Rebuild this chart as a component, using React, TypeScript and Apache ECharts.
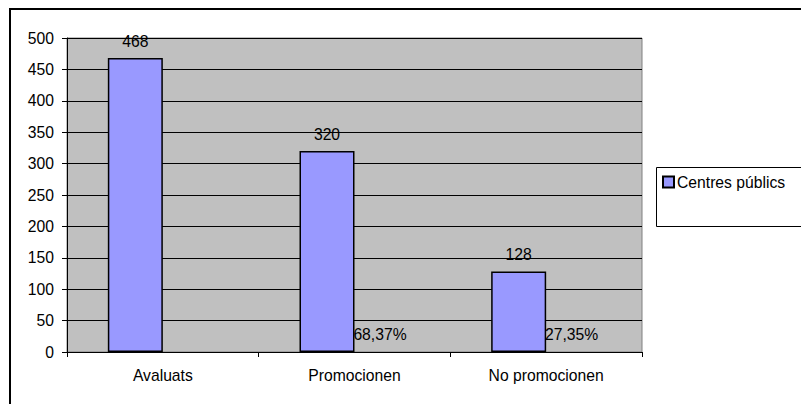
import React, { useEffect, useRef } from "react";
import * as echarts from "echarts";

const categories = ["Avaluats", "Promocionen", "No promocionen"];
const centresPublics = [468, 320, 128];
const percentages: (number | null)[] = [null, 68.37, 27.35];
const seriesName = "Centres públics";

const FONT = "'Liberation Sans', Arial, sans-serif";
const FS = 15.7;

export default function App() {
  const ref = useRef<HTMLDivElement>(null);
  useEffect(() => {
    if (!ref.current) return;
    const chart = echarts.init(ref.current, undefined, { renderer: "svg" });
    chart.setOption({
      animation: false,
      backgroundColor: "#ffffff",
      textStyle: { fontFamily: FONT },
      grid: {
        left: 67,
        top: 38,
        right: 159,
        bottom: 52,
        show: true,
        backgroundColor: "#c0c0c0",
        borderColor: "#808080",
        borderWidth: 1,
      },
      graphic: [
        {
          type: "rect",
          z: -10,
          shape: { x: 10, y: 9, width: 830, height: 430 },
          style: { fill: "none", stroke: "#000", lineWidth: 2 },
        },
        {
          type: "rect",
          z: 0,
          shape: { x: 656.5, y: 167.5, width: 170, height: 59 },
          style: { fill: "#fff", stroke: "#000", lineWidth: 1 },
        },
      ],
      legend: {
        data: [seriesName],
        left: 662,
        top: 174,
        icon: "rect",
        itemWidth: 11,
        itemHeight: 11,
        itemGap: 0,
        padding: 0,
        textStyle: { fontFamily: FONT, fontSize: FS, color: "#000", padding: [0, 0, 5, -2] },
        z: 10,
      },
      xAxis: {
        type: "category",
        data: categories,
        boundaryGap: true,
        axisLine: { show: true, lineStyle: { color: "#000", width: 1 } },
        axisTick: { show: true, length: 5, interval: 0, lineStyle: { color: "#000" } },
        axisLabel: { fontFamily: FONT, fontSize: FS, color: "#000", margin: 15, interval: 0 },
      },
      yAxis: {
        type: "value",
        min: 0,
        max: 500,
        interval: 50,
        axisLine: { show: true, lineStyle: { color: "#000", width: 1 } },
        axisTick: { show: true, length: 5, lineStyle: { color: "#000" } },
        axisLabel: { fontFamily: FONT, fontSize: FS, color: "#000", margin: 13 },
        splitLine: { show: true, lineStyle: { color: "#000", width: 1 } },
      },
      series: [
        {
          name: seriesName,
          type: "bar",
          data: centresPublics,
          barWidth: 55,
          barGap: "0%",
          itemStyle: { color: "#9999ff", borderColor: "#000", borderWidth: 1.5 },
          label: {
            show: true,
            position: "top",
            distance: 9,
            fontFamily: FONT,
            fontSize: FS,
            color: "#000",
          },
        },
        {
          name: "pct",
          type: "bar",
          data: percentages.map((p) => (p == null ? "-" : p / 100)),
          barWidth: 55,
          barGap: "0%",
          itemStyle: { color: "rgba(0,0,0,0)" },
          label: {
            show: true,
            position: "top",
            distance: 9,
            offset: [-2, 0],
            fontFamily: FONT,
            fontSize: FS,
            color: "#000",
            formatter: (p: any) =>
              (Number(p.value) * 100).toFixed(2).replace(".", ",") + "%",
          },
        },
      ],
    });
    return () => chart.dispose();
  }, []);
  return (
    <div
      ref={ref}
      style={{ position: "absolute", left: 0, top: 0, width: 801, height: 404 }}
    />
  );
}
